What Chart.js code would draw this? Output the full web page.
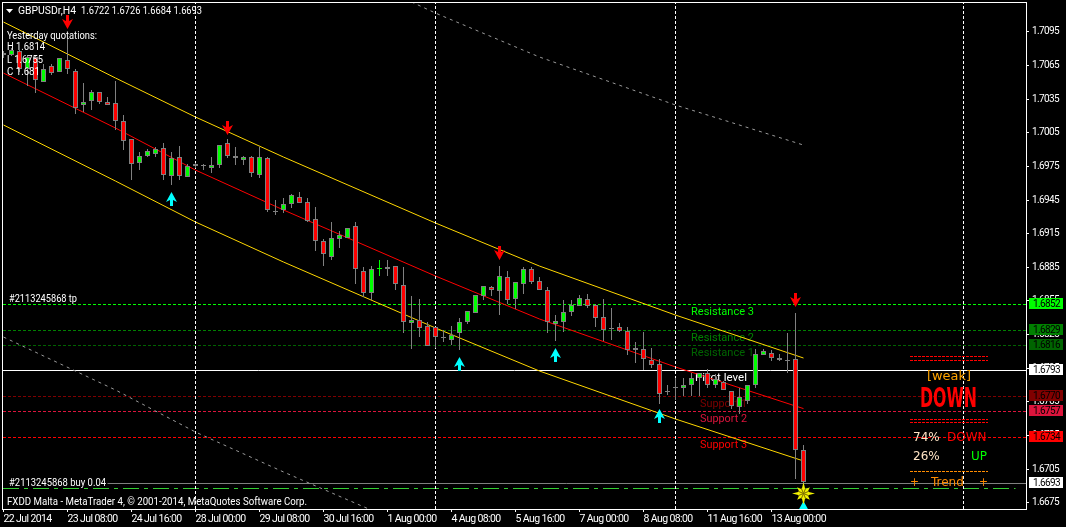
<!DOCTYPE html>
<html><head><meta charset="utf-8">
<style>html,body{margin:0;padding:0;background:#000}canvas{display:block}</style>
<script src="https://cdn.jsdelivr.net/npm/chart.js@4"></script>
</head><body><canvas id="c" width="1066" height="527"></canvas>
<script>
const opens=[1.7076,1.7074,1.7077,1.7061,1.7072,1.7050,1.7064,1.7059,1.7069,1.7060,
1.7029,1.7033,1.7041,1.7032,1.7031,1.7015,1.6999,1.6978,1.6984,1.6986,
1.6991,1.6966,1.6983,1.6965,1.6977,1.6976,1.6973,1.6976,1.6995,1.6984,
1.6980,1.6983,1.6967,1.6982,1.6935,1.6936,1.6941,1.6947,1.6943,1.6928,
1.6908,1.6894,1.6910,1.6911,1.6921,1.6881,1.6862,1.6884,1.6883,1.6886,
1.6869,1.6835,1.6838,1.6832,1.6831,1.6822,1.6820,1.6826,1.6836,1.6844,
1.6859,1.6867,1.6863,1.6876,1.6856,1.6870,1.6883,1.6872,1.6864,1.6834,
1.6836,1.6845,1.6850,1.6856,1.6851,1.6840,1.6830,1.6831,1.6828,1.6813,
1.6812,1.6802,1.6798,1.6774,1.6778,1.6777,1.6780,1.6786,1.6790,1.6780,
1.6782,1.6774,1.6760,1.6765,1.6780,1.6806,1.6808,1.6804,1.6802,1.6803,1.6722];
const closes=[1.7074,1.7078,1.7061,1.7072,1.7052,1.7061,1.7058,1.7071,1.7061,1.7027,
1.7032,1.7041,1.7032,1.7029,1.7015,1.6997,1.6977,1.6984,1.6988,1.6990,
1.6967,1.6982,1.6966,1.6975,1.6975,1.6975,1.6976,1.6994,1.6984,1.6982,
1.6983,1.6969,1.6983,1.6936,1.6935,1.6941,1.6949,1.6942,1.6926,1.6908,
1.6896,1.6911,1.6913,1.6920,1.6883,1.6862,1.6883,1.6884,1.6885,1.6870,
1.6836,1.6838,1.6830,1.6814,1.6822,1.6822,1.6824,1.6836,1.6846,1.6860,
1.6868,1.6864,1.6877,1.6855,1.6871,1.6883,1.6871,1.6864,1.6836,1.6837,
1.6845,1.6851,1.6857,1.6850,1.6839,1.6829,1.6830,1.6828,1.6811,1.6811,
1.6803,1.6797,1.6772,1.6774,1.6778,1.6780,1.6786,1.6790,1.6780,1.6785,
1.6775,1.6761,1.6769,1.6780,1.6807,1.6810,1.6804,1.6802,1.6802,1.6722,1.6693];
const highs=[1.7077,1.7080,1.7078,1.7074,1.7073,1.7066,1.7066,1.7071,1.7089,1.7061,
1.7049,1.7043,1.7041,1.7036,1.7051,1.7020,1.6999,1.6987,1.6990,1.6992,
1.6995,1.6987,1.6993,1.6977,1.6978,1.6977,1.6983,1.6994,1.6999,1.6992,
1.6984,1.6984,1.6992,1.6983,1.6945,1.6946,1.6950,1.6952,1.6946,1.6938,
1.6910,1.6925,1.6917,1.6920,1.6925,1.6885,1.6886,1.6891,1.6891,1.6886,
1.6885,1.6859,1.6856,1.6836,1.6831,1.6829,1.6832,1.6839,1.6846,1.6860,
1.6868,1.6868,1.6886,1.6881,1.6871,1.6885,1.6885,1.6876,1.6867,1.6842,
1.6855,1.6855,1.6860,1.6861,1.6852,1.6856,1.6848,1.6835,1.6831,1.6818,
1.6827,1.6813,1.6803,1.6780,1.6786,1.6786,1.6790,1.6790,1.6794,1.6789,
1.6783,1.6774,1.6777,1.6780,1.6812,1.6812,1.6811,1.6807,1.6826,1.6844,1.6726];
const lows=[1.7071,1.7073,1.7059,1.7046,1.7040,1.7050,1.7056,1.7059,1.7057,1.7021,
1.7023,1.7025,1.7030,1.7029,1.7007,1.6989,1.6962,1.6971,1.6983,1.6983,
1.6962,1.6958,1.6962,1.6965,1.6973,1.6971,1.6969,1.6973,1.6982,1.6976,
1.6976,1.6965,1.6964,1.6934,1.6931,1.6933,1.6937,1.6942,1.6925,1.6899,
1.6886,1.6891,1.6902,1.6911,1.6870,1.6858,1.6855,1.6877,1.6877,1.6864,
1.6826,1.6812,1.6822,1.6814,1.6813,1.6818,1.6815,1.6811,1.6834,1.6844,
1.6855,1.6859,1.6842,1.6852,1.6847,1.6861,1.6870,1.6864,1.6826,1.6819,
1.6827,1.6841,1.6850,1.6848,1.6831,1.6819,1.6820,1.6827,1.6806,1.6799,
1.6793,1.6795,1.6763,1.6771,1.6766,1.6770,1.6770,1.6770,1.6777,1.6777,
1.6775,1.6758,1.6754,1.6763,1.6777,1.6806,1.6801,1.6801,1.6790,1.6696,1.6684];
const greenDojiBars=[47];

const xTickBars=[0,8,16,24,32,40,48,56,64,72,80,88,96];
const xTickLabels=["22 Jul 2014","23 Jul 08:00","24 Jul 16:00","28 Jul 00:00","29 Jul 08:00","30 Jul 16:00","1 Aug 00:00","4 Aug 08:00","5 Aug 16:00","7 Aug 00:00","8 Aug 08:00","11 Aug 16:00","13 Aug 00:00"];
const yTickValues=[1.7095,1.7065,1.7035,1.7005,1.6975,1.6945,1.6915,1.6885,1.6855,1.6825,1.6795,1.6765,1.6735,1.6705,1.6675];
const periodBars=[24,54,84,120];

const channelBars=[0,14,24,35,54,67,84,100];
const channelUpper=[1.71037,1.70538,1.70190,1.69833,1.69245,1.68861,1.68424,1.68041];
const channelMiddle=[1.70582,1.70092,1.69717,1.69361,1.68772,1.68389,1.67961,1.67590];
const channelLower=[1.70119,1.69619,1.69254,1.68897,1.68309,1.67925,1.67497,1.67123];
const outerUpperBars=[51,54,67,84,100];
const outerUpper=[1.71216,1.71117,1.70725,1.70297,1.69940];
const outerLowerBars=[0,14,24,35,54];
const outerLower=[1.68228,1.67756,1.67381,1.67025,1.66436];

const levelPrices=[1.6852,1.6829,1.6816,1.6793,1.6770,1.6757,1.6734];
const levelTags=["1.6852","1.6829","1.6816","1.6793","1.6770","1.6757","1.6734"];
const levelColors=["#00ff00","#008000","#006400","#ffffff","#800000","#dc143c","#ff0000"];
const bidPrice=1.6693;
const stopPrice=1.6688;
const sellArrowBars=[8,28,62,99];
const sellArrowPrices=[1.7104,1.7009,1.6898,1.6856];
const buyArrowBars=[21,57,69,82,100];
const buyArrowPrices=[1.6946,1.6799,1.6807,1.6752,1.6670];
const starBar=100, starPrice=1.6684;

const FONT='Roboto, "Liberation Sans", sans-serif';
const X_MIN=-0.0625, X_MAX=127.8125, Y_MAX=1.712068, Y_MIN=1.666947;
const xy=(xs,ys)=>xs.map((x,i)=>({x,y:ys[i]}));
const span=y=>[{x:X_MIN,y},{x:X_MAX,y}];

function arrowCanvas(color,up){
  const c=document.createElement('canvas');c.width=11;c.height=14;
  const g=c.getContext('2d');g.fillStyle=color;
  if(up){g.translate(0,14);g.scale(1,-1);}
  g.beginPath();
  [[4,0],[7,0],[7,6],[11,4],[5.5,14],[0,4],[4,6]].forEach((p,i)=>i?g.lineTo(p[0],p[1]):g.moveTo(p[0],p[1]));
  g.closePath();g.fill();return c;
}
function starCanvas(){
  const c=document.createElement('canvas');c.width=23;c.height=21;
  const g=c.getContext('2d');g.translate(11.5,10.5);
  g.fillStyle='#f2f200';g.beginPath();
  for(let k=0;k<16;k++){const a=k*Math.PI/8-Math.PI/2;const r=k%2?4.6:(k%4?9:11.5);
    const px=r*Math.cos(a),py=r*Math.sin(a);k?g.lineTo(px,py):g.moveTo(px,py);}
  g.closePath();g.fill();
  g.strokeStyle='#7a6a00';g.lineWidth=1;
  for(let k=0;k<8;k++){const a=k*Math.PI/4+Math.PI/8;g.beginPath();g.moveTo(0,0);g.lineTo(6*Math.cos(a),6*Math.sin(a));g.stroke();}
  return c;
}
function lineDs(data,color,extra){return Object.assign({type:'line',data,borderColor:color,borderWidth:1,pointRadius:0,tension:0,fill:false,order:10},extra||{});}

const barIndex=opens.map((_,i)=>i);
const bodyColor=i=>greenDojiBars.includes(i)?'#00ff00':closes[i]>opens[i]?'#00ff00':closes[i]<opens[i]?'#ff0000':'#808080';
const edgeColor=i=>greenDojiBars.includes(i)?'#00ff00':'#808080';

const datasets=[
 {type:'line',data:xy(sellArrowBars,sellArrowPrices),showLine:false,pointStyle:arrowCanvas('#ff0000',false),pointRadius:7,order:-2,snapPt:0},
 {type:'line',data:xy(buyArrowBars,buyArrowPrices),showLine:false,pointStyle:arrowCanvas('#00ffff',true),pointRadius:7,order:-2,snapPt:0},
 {type:'line',data:[{x:starBar,y:starPrice}],showLine:false,pointStyle:starCanvas(),pointRadius:11,order:-3,snapPt:0.5},
 {type:'bar',data:barIndex.map(i=>({x:i,y:[opens[i],closes[i]]})),barThickness:5,grouped:false,inflateAmount:0,borderSkipped:false,borderWidth:1,
   backgroundColor:barIndex.map(bodyColor),borderColor:barIndex.map(edgeColor),order:0,snapBar:true},
 {type:'bar',data:barIndex.map(i=>({x:i,y:[lows[i],highs[i]]})),barThickness:1,grouped:false,inflateAmount:0,borderSkipped:false,borderWidth:0,
   backgroundColor:barIndex.map(edgeColor),order:1,snapBar:true},
 lineDs(xy(channelBars,channelUpper),'#ffd700',{order:6}),
 lineDs(xy(channelBars,channelMiddle),'#ff0000',{order:6}),
 lineDs(xy(channelBars,channelLower),'#ffd700',{order:6}),
 lineDs(xy(outerUpperBars,outerUpper),'#9a9a9a',{borderDash:[3,4],order:7}),
 lineDs(xy(outerLowerBars,outerLower),'#9a9a9a',{borderDash:[3,4],order:7}),
 ...periodBars.map(b=>lineDs([{x:b,y:Y_MIN},{x:b,y:Y_MAX}],'#ffffff',{borderDash:[3,2],order:5})),
 ...levelPrices.map((p,i)=>lineDs(span(p),levelColors[i],{borderDash:levelColors[i]==='#ffffff'?[]:[3,2],snapH:true,order:8})),
 lineDs([{x:13,y:bidPrice},{x:X_MAX,y:bidPrice}],'#808080',{snapH:true,order:9}),
 lineDs([{x:X_MIN,y:stopPrice},{x:126.5,y:stopPrice}],'#32cd32',{borderDash:[16,5,4,5],snapH:true,order:9})
];

// Text and panel furniture: [text, x, y, colour, maxWidth, font]
const F10='10.5px '+FONT, F11='11.5px '+FONT, D12='12px "DejaVu Sans"', D13='13px "DejaVu Sans"';
const underCandleText=[
 ["Resistance 3",691,312,"#00ff00",63,F11],["Resistance 2",691,338,"#008000",63,F11],["Resistance 1",691,353,"#006400",63,F11],
 ["Pivot level",695,378,"#ffffff",52,F11],["Support 1",700,404,"#800000",47,F11],["Support 2",700,419,"#dc143c",47,F11],["Support 3",700,445,"#ff0000",47,F11]
];
const overCandleText=[
 ["GBPUSDr,H4",18,11,"#ffffff",58,F10],["1.6722 1.6726 1.6684 1.6693",81,11,"#ffffff",121,F10],
 ["Yesterday quotations:",7,36,"#ffffff",90,F10],["H 1.6814",7,47,"#ffffff",38,F10],["L 1.6755",7,60,"#ffffff",36,F10],["C 1.681",7,72,"#ffffff",33,F10],
 ["#2113245868 tp",9,299,"#ffffff",68,F10],["#2113245868 buy 0.04",9,483,"#ffffff",97,F10],
 ["FXDD Malta - MetaTrader 4, © 2001-2014, MetaQuotes Software Corp.",7,502,"#ffffff",300,F10],
 ["[weak]",927,377,"#ffa500",44,D13],["DOWN",920,400,"#ff0000",57,'bold 26px "DejaVu Sans"'],
 ["74%",913,438,"#ffe4c4",27,D12],["DOWN",947,438,"#ff0000",40,D12],["26%",913,457,"#ffe4c4",27,D12],["UP",971,457,"#00ff00",16,D12],
 ["+",910,483,"#ff8c00",9,D12],["Trend",931,483,"#ff8c00",36,D12],["+",979,483,"#ff8c00",9,D12]
];
const panelRules=[[910,988,356,"#ff0000"],[910,988,360,"#ff0000"],[910,988,419,"#ff0000"],[910,988,422,"#ff0000"],[910,988,471,"#ff8c00"]];

function drawTexts(ctx,list){
  ctx.save();ctx.textBaseline='middle';ctx.textAlign='left';ctx.letterSpacing='0px';
  list.forEach(t=>{ctx.font=t[5];ctx.fillStyle=t[3];ctx.fillText(t[0],t[1],t[2],t[4]);});
  ctx.restore();
}
const mt4Plugin={
 id:'mt4',
 afterDatasetsUpdate(chart){
  chart.data.datasets.forEach((ds,i)=>{
   const m=chart.getDatasetMeta(i);
   if(ds.snapH) m.data.forEach(p=>{p.y=Math.round(p.y)+0.5;});
   if(ds.snapPt!==undefined) m.data.forEach(p=>{p.y=Math.round(p.y)+ds.snapPt;});
   if(ds.snapBar) m.data.forEach(b=>{
     let top=Math.floor(Math.min(b.y,b.base)),bot=Math.floor(Math.max(b.y,b.base));
     if(bot===top)bot=top+1;
     b.y=top;b.base=bot;b.height=bot-top;
   });
  });
 },
 beforeDraw(chart){
  const c=chart.ctx;c.save();c.fillStyle='#000';c.fillRect(0,0,chart.width,chart.height);c.restore();
  c.letterSpacing='-0.6px';
 },
 beforeDatasetsDraw(chart){drawTexts(chart.ctx,underCandleText);},
 afterDatasetsDraw(chart){
  const c=chart.ctx;
  c.save();c.lineWidth=1;c.setLineDash([3,1]);
  panelRules.forEach(r=>{c.strokeStyle=r[3];c.beginPath();c.moveTo(r[0],r[2]+.5);c.lineTo(r[1],r[2]+.5);c.stroke();});
  c.restore();
  drawTexts(c,overCandleText);
  c.save();c.fillStyle='#fff';c.beginPath();c.moveTo(6,9);c.lineTo(13,9);c.lineTo(9.5,13);c.closePath();c.fill();c.restore();
 },
 afterDraw(chart){
  const c=chart.ctx,a=chart.chartArea,y=chart.scales.y;
  c.save();c.strokeStyle='#fff';c.lineWidth=1;c.setLineDash([]);
  c.strokeRect(a.left-.5,a.top-.5,a.right-a.left+1,a.bottom-a.top+1);
  const tag=(p,label,bg)=>{const py=Math.round(y.getPixelForValue(p));
    c.fillStyle=bg;c.fillRect(1029,py-6,34,11);
    c.fillStyle='#000';c.font='10px '+FONT;c.letterSpacing='-0.6px';c.textBaseline='middle';c.textAlign='left';c.fillText(label,1033,py);};
  levelPrices.forEach((p,i)=>tag(p,levelTags[i],levelColors[i]));
  tag(bidPrice,"1.6693","#ffffff");
  c.restore();
 }
};

new Chart(document.getElementById('c'),{
 data:{datasets},
 plugins:[mt4Plugin],
 options:{
  responsive:false,animation:false,devicePixelRatio:1,events:[],
  layout:{autoPadding:false,padding:{left:3,top:3,right:0,bottom:0}},
  plugins:{legend:{display:false},tooltip:{enabled:false},title:{display:false}},
  scales:{
   x:{type:'linear',offset:false,min:X_MIN,max:X_MAX,
    afterBuildTicks:s=>{s.ticks=xTickBars.map(v=>({value:v}));},
    afterFit:s=>{s.height=18;s.paddingLeft=0;s.paddingRight=0;s.paddingTop=0;s.paddingBottom=0;},
    grid:{offset:false,drawOnChartArea:false,drawTicks:true,tickLength:3,tickColor:'#fff',color:'#fff'},
    border:{color:'#fff',width:1},
    ticks:{autoSkip:false,maxRotation:0,minRotation:0,align:'start',padding:1,color:'#fff',font:{size:10.5,family:FONT},
     callback:v=>xTickLabels[xTickBars.indexOf(v)]}},
   y:{type:'linear',position:'right',min:Y_MIN,max:Y_MAX,
    afterBuildTicks:s=>{s.ticks=yTickValues.map(v=>({value:v}));},
    afterFit:s=>{s.width=40;s.paddingLeft=0;s.paddingRight=0;s.paddingTop=0;s.paddingBottom=0;},
    grid:{drawOnChartArea:false,drawTicks:true,tickLength:3,tickColor:'#fff',color:'#fff'},
    border:{color:'#fff',width:1},
    ticks:{autoSkip:false,padding:3,color:'#fff',font:{size:10,family:FONT},callback:v=>v.toFixed(4)}}
  }
 }
});
</script></body></html>
